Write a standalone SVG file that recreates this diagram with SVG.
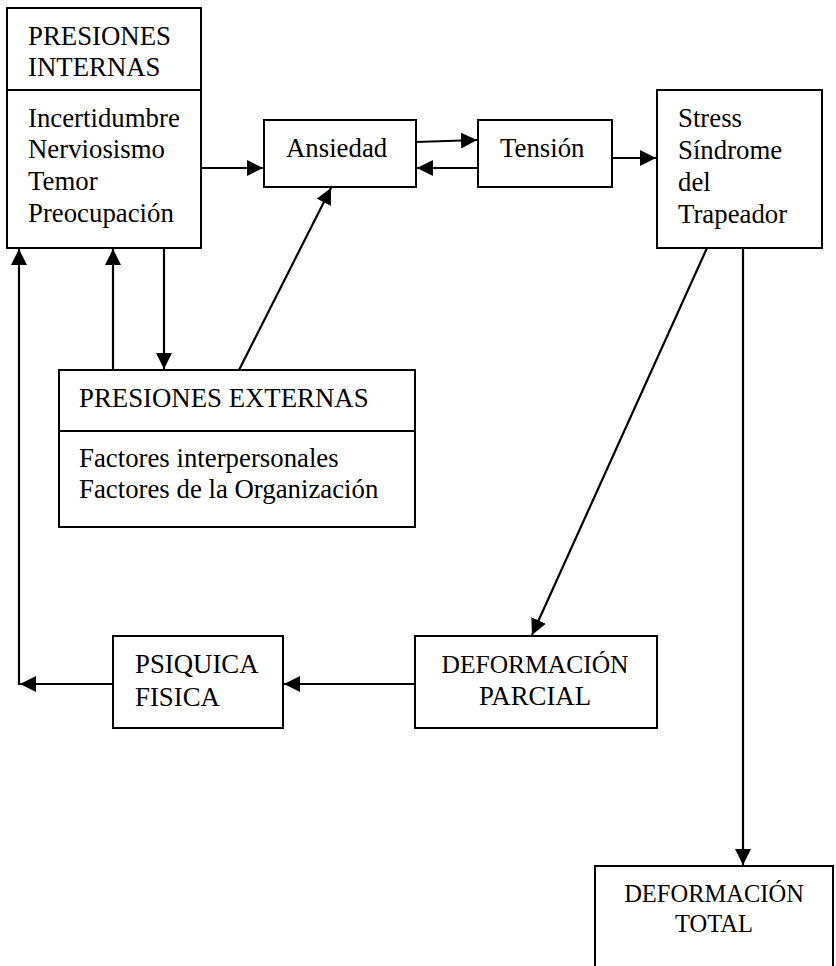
<svg xmlns="http://www.w3.org/2000/svg" width="836" height="966" viewBox="0 0 836 966">
<style>
.box{fill:#fff;stroke:#000;stroke-width:2}
.ln{fill:none;stroke:#000;stroke-width:2}
.ar{fill:none;stroke:#000;stroke-width:2.2;marker-end:url(#ah)}
text{font-family:"Liberation Serif","Times New Roman",serif;font-size:26.8px;fill:#000}
.c{text-anchor:middle}
</style>
<defs>
<marker id="ah" markerUnits="userSpaceOnUse" markerWidth="17" markerHeight="16" refX="16" refY="8" orient="auto">
<path d="M0,0 L16,8 L0,16 z" fill="#000"/>
</marker>
</defs>
<rect width="836" height="966" fill="#fff"/>
<g id="connectors">
<line class="ar" x1="201" y1="168" x2="263" y2="168"/>
<line class="ar" x1="416" y1="142" x2="477" y2="140"/>
<line class="ar" x1="478" y1="168" x2="417" y2="168"/>
<line class="ar" x1="612" y1="158" x2="656" y2="158"/>
<line class="ar" x1="707" y1="248" x2="532" y2="635"/>
<line class="ar" x1="743" y1="248" x2="743" y2="865"/>
<line class="ar" x1="164" y1="248" x2="164" y2="369"/>
<line class="ar" x1="113" y1="370" x2="113" y2="249"/>
<line class="ar" x1="239" y1="370" x2="331" y2="188"/>
<line class="ar" x1="415" y1="684" x2="284" y2="684"/>
<line class="ar" x1="113" y1="684" x2="20" y2="684"/>
<line class="ar" x1="19" y1="685" x2="19" y2="249"/>
</g>
<g id="presiones-internas">
<rect class="box" x="7" y="8" width="194" height="240"/>
<line class="ln" x1="7" y1="90" x2="201" y2="90"/>
<text x="28" y="45">PRESIONES</text>
<text x="28" y="76">INTERNAS</text>
<text x="28" y="127">Incertidumbre</text>
<text x="28" y="158">Nerviosismo</text>
<text x="28" y="190">Temor</text>
<text x="28" y="222">Preocupación</text>
</g>
<g id="ansiedad">
<rect class="box" x="264" y="120" width="152" height="67"/>
<text x="286" y="157">Ansiedad</text>
</g>
<g id="tension">
<rect class="box" x="478" y="120" width="134" height="67"/>
<text x="500" y="157">Tensión</text>
</g>
<g id="stress">
<rect class="box" x="657" y="90" width="165" height="158"/>
<text x="678" y="127">Stress</text>
<text x="678" y="159">Síndrome</text>
<text x="678" y="191">del</text>
<text x="678" y="223">Trapeador</text>
</g>
<g id="presiones-externas">
<rect class="box" x="59" y="370" width="356" height="157"/>
<line class="ln" x1="59" y1="431" x2="415" y2="431"/>
<text x="79" y="407">PRESIONES EXTERNAS</text>
<text x="79" y="467">Factores interpersonales</text>
<text x="79" y="498">Factores de la Organización</text>
</g>
<g id="psiquica-fisica">
<rect class="box" x="113" y="636" width="170" height="92"/>
<text x="135" y="673">PSIQUICA</text>
<text x="135" y="706">FISICA</text>
</g>
<g id="deformacion-parcial">
<rect class="box" x="415" y="636" width="242" height="92"/>
<text class="c" x="535" y="673" style="font-size:25.5px">DEFORMACIÓN</text>
<text class="c" x="535" y="705">PARCIAL</text>
</g>
<g id="deformacion-total">
<rect class="box" x="595" y="866" width="238" height="120"/>
<text class="c" x="714" y="902" style="font-size:24.5px">DEFORMACIÓN</text>
<text class="c" x="714" y="932" style="font-size:24.5px">TOTAL</text>
</g>
</svg>
